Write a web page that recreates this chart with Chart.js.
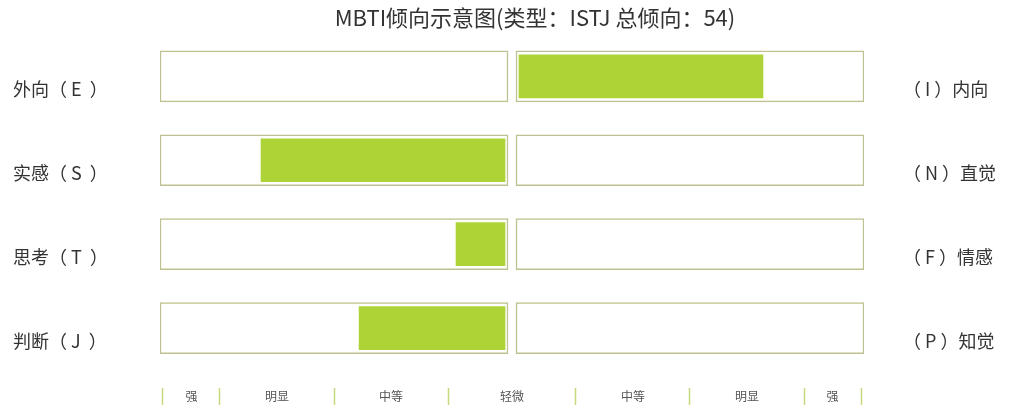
<!DOCTYPE html>
<html>
<head>
<meta charset="utf-8">
<script src="https://cdn.jsdelivr.net/npm/chart.js"></script>
<style>
  html, body { margin: 0; padding: 0; background: #fff; }
  #wrap { width: 1013px; height: 410px; }
</style>
</head>
<body>
<div id="wrap"><canvas id="mbti"></canvas></div>
<script>
// data
const leftLabels = ['外向（ E  ）', '实感（ S  ）', '思考（ T  ）', '判断（ J  ）'];
const rightLabels = ['（ I ）内向', '（ N ）直觉', '（ F ）情感', '（ P ）知觉'];
const leftScores = [0, 21.4, 4.3, 12.8];
const rightScores = [21.4, 0, 0, 0];
const bandEdges = [5, 15, 25, 30];
const bandLabels = ['轻微', '中等', '明显', '强'];
const maxScore = 30;

// layout helpers (score units): half gap between the two boxes, inner padding
const GAP = 0.35;
const OFF = GAP + 0.26;
const EDGE = maxScore + OFF + 0.26;

const font = "'Noto Sans CJK SC', 'Noto Sans', sans-serif";
const green = '#aed337';
const frame = '#bfc190';

const boxLeft = leftLabels.map(() => [-EDGE, -GAP]);
const boxRight = leftLabels.map(() => [GAP, EDGE]);
const barLeft = leftScores.map(v => v > 0 ? [-(OFF + v), -OFF] : null);
const barRight = rightScores.map(v => v > 0 ? [OFF, OFF + v] : null);

// bottom scale: band borders with band names in between
const edgeVals = [...bandEdges.slice().reverse().map(e => -(OFF + e)), ...bandEdges.map(e => OFF + e)];
const midNames = [...bandLabels.slice().reverse(), ...bandLabels.slice(1)];
const bottomTicks = [];
edgeVals.forEach((v, i) => {
  bottomTicks.push({ value: v, text: '' });
  if (i < edgeVals.length - 1) {
    bottomTicks.push({ value: (v + edgeVals[i + 1]) / 2, text: midNames[i] });
  }
});

// keep the axes from pushing the plot area around
const noPad = s => { s.paddingTop = 0; s.paddingBottom = 0; s.paddingLeft = 0; s.paddingRight = 0; };

const common = { grouped: false, borderSkipped: false };

new Chart('mbti', {
  type: 'bar',
  data: {
    labels: leftLabels,
    datasets: [
      { ...common, data: barLeft, backgroundColor: green, borderWidth: 0, barThickness: 43 },
      { ...common, data: barRight, backgroundColor: green, borderWidth: 0, barThickness: 43 },
      { ...common, data: boxLeft, backgroundColor: '#fff', borderColor: frame, borderWidth: 1.5, barThickness: 51 },
      { ...common, data: boxRight, backgroundColor: '#fff', borderColor: frame, borderWidth: 1.5, barThickness: 51 },
    ],
  },
  options: {
    indexAxis: 'y',
    responsive: true,
    maintainAspectRatio: false,
    animation: false,
    layout: { autoPadding: false, padding: { left: 13, right: 0, top: 0, bottom: 0 } },
    plugins: {
      legend: { display: false },
      tooltip: { enabled: false },
      title: {
        display: true,
        text: '\u3000\u3000MBTI倾向示意图(类型：ISTJ 总倾向：54)',
        color: '#333',
        font: { family: font, size: 22, weight: 'normal' },
        padding: { top: 4, bottom: 4 },
      },
    },
    scales: {
      x: {
        type: 'linear',
        min: -EDGE,
        max: EDGE,
        border: { display: false },
        grid: {
          drawOnChartArea: false,
          tickLength: 35,
          tickWidth: 1.5,
          tickBorderDash: [17, 18],
          tickBorderDashOffset: 17,
          tickColor: ctx => ctx.index % 2 === 0 ? '#c5d97f' : 'transparent',
        },
        afterBuildTicks: scale => { scale.ticks = bottomTicks.map(t => ({ value: t.value })); },
        afterFit: scale => { scale.height = 40; noPad(scale); },
        ticks: {
          autoSkip: false,
          maxRotation: 0,
          padding: -16,
          color: '#555',
          font: { family: font, size: 12 },
          callback: (v, i) => bottomTicks[i] ? bottomTicks[i].text : '',
        },
      },
      y: {
        position: 'left',
        border: { display: false },
        grid: { display: false },
        afterFit: scale => { scale.width = 147; noPad(scale); },
        ticks: {
          crossAlign: 'far',
          labelOffset: 13,
          color: '#333',
          font: { family: font, size: 18 },
        },
      },
      y2: {
        type: 'category',
        labels: rightLabels,
        position: 'right',
        border: { display: false },
        grid: { display: false },
        afterFit: scale => { scale.width = 149; noPad(scale); },
        ticks: {
          padding: 31,
          labelOffset: 13,
          color: '#333',
          font: { family: font, size: 18 },
        },
      },
    },
  },
});
</script>
</body>
</html>
